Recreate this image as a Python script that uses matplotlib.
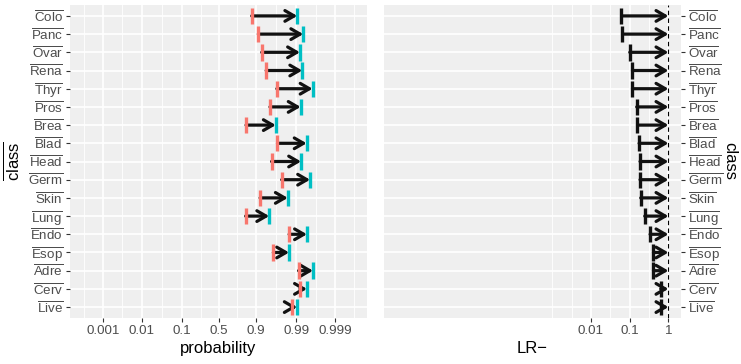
import matplotlib
matplotlib.use("Agg")
import matplotlib.pyplot as plt
from matplotlib.ticker import FixedLocator, NullFormatter
import numpy as np

plt.rcParams['font.family'] = ['Liberation Sans', 'DejaVu Sans']
plt.rcParams['mathtext.fontset'] = 'custom'
plt.rcParams['mathtext.rm'] = 'Liberation Sans'
plt.rcParams['mathtext.it'] = 'Liberation Sans:italic'

# top to bottom
classes = ["Colo", "Panc", "Ovar", "Rena", "Thyr", "Pros", "Brea", "Blad", "Head",
           "Germ", "Skin", "Lung", "Endo", "Esop", "Adre", "Cerv", "Live"]
prob_start = [0.875, 0.912, 0.927, 0.943, 0.969, 0.954, 0.833, 0.970, 0.958,
              0.9766, 0.920, 0.830, 0.9848, 0.962, 0.9913, 0.992, 0.987]
prob_end = [0.9906, 0.9934, 0.992, 0.993, 0.9962, 0.9923, 0.967, 0.9946, 0.9925,
            0.9956, 0.9836, 0.952, 0.9947, 0.9848, 0.9963, 0.9947, 0.9903]
lr_neg = [0.0615, 0.0652, 0.1006, 0.118, 0.118, 0.152, 0.159, 0.175, 0.185,
          0.185, 0.193, 0.245, 0.336, 0.41, 0.41, 0.634, 0.66]

prob_ticks = [0.001, 0.01, 0.1, 0.5, 0.9, 0.99, 0.999]
prob_labels = ["0.001", "0.01", "0.1", "0.5", "0.9", "0.99", "0.999"]
lr_ticks = [0.01, 0.1, 1]
lr_labels = ["0.01", "0.1", "1"]

RED = "#F8766D"
CYAN = "#00BFC4"
BG = "#EFEFEF"
TXT = "#4D4D4D"
ARROW = dict(arrowstyle="->,head_length=0.55,head_width=0.32",
             color="#111111", lw=2.3, shrinkA=0, shrinkB=0, mutation_scale=12)

n = len(classes)
ypos = np.arange(n, 0, -1)
labels = [r"$\overline{\mathrm{%s}}$" % c for c in classes]

fig = plt.figure(figsize=(7.41, 3.64), dpi=100)
axL = fig.add_axes([70 / 741, 46 / 364, 296.7 / 741, 313 / 364])
axR = fig.add_axes([384 / 741, 46 / 364, 296.7 / 741, 313 / 364])


def style(ax):
    ax.set_facecolor(BG)
    for s in ax.spines.values():
        s.set_visible(False)
    ax.set_ylim(0.4, n + 0.6)
    ax.set_yticks(ypos)
    ax.set_yticklabels(labels)
    ax.tick_params(axis="both", which="major", length=3, width=0.8, color="#333333",
                   labelsize=9.6, labelcolor=TXT, pad=2)
    ax.tick_params(axis="both", which="minor", length=0)
    ax.grid(which="major", color="white", linewidth=1.2)
    ax.grid(which="minor", axis="x", color="white", linewidth=0.6)
    ax.set_axisbelow(True)


# left panel: probability on logit scale
style(axL)
axL.set_xscale("logit")
axL.set_xlim(1.4e-4, 1 - 1.52e-4)
axL.set_xticks(prob_ticks)
axL.set_xticklabels(prob_labels)
lg = np.log(np.array(prob_ticks) / (1 - np.array(prob_ticks)))
lg_ext = np.concatenate([[2 * lg[0] - lg[1]], lg, [2 * lg[-1] - lg[-2]]])
mids = (lg_ext[:-1] + lg_ext[1:]) / 2
axL.xaxis.set_minor_locator(FixedLocator(1 / (1 + np.exp(-mids))))
axL.xaxis.set_minor_formatter(NullFormatter())

for y, a, b in zip(ypos, prob_start, prob_end):
    axL.annotate("", xy=(b, y), xytext=(a, y), arrowprops=ARROW)
axL.vlines(prob_start, ypos - 0.45, ypos + 0.45, color=RED, lw=2.4, zorder=3)
axL.vlines(prob_end, ypos - 0.45, ypos + 0.45, color=CYAN, lw=2.4, zorder=3)
axL.set_xlabel("probability", fontsize=12, labelpad=3)
axL.set_ylabel(r"$\overline{\mathrm{class}}$", fontsize=12, va="center")
axL.yaxis.set_label_coords(-0.195, 0.5)

# right panel: LR- on log scale
style(axR)
axR.set_xscale("log")
axR.set_xlim(10 ** -7.34, 10 ** 0.317)
axR.set_xticks(lr_ticks)
axR.set_xticklabels(lr_labels)
axR.xaxis.set_minor_locator(FixedLocator([10 ** -3, 10 ** -2.5, 10 ** -1.5, 10 ** -0.5]))
axR.xaxis.set_minor_formatter(NullFormatter())
axR.yaxis.tick_right()
axR.yaxis.set_label_position("right")
axR.axvline(1, color="black", lw=0.8, ls=(0, (4, 3)), zorder=2)
for y, v in zip(ypos, lr_neg):
    axR.annotate("", xy=(1, y), xytext=(v, y), arrowprops=ARROW)
axR.vlines(lr_neg, ypos - 0.45, ypos + 0.45, color="#111111", lw=2.4, zorder=3)
axR.set_xlabel("LR\u2212", fontsize=12, labelpad=3)
axR.set_ylabel("class", fontsize=12, rotation=-90, va="center")
axR.yaxis.set_label_coords(1.165, 0.5)

fig.savefig("out.png", dpi=100)
